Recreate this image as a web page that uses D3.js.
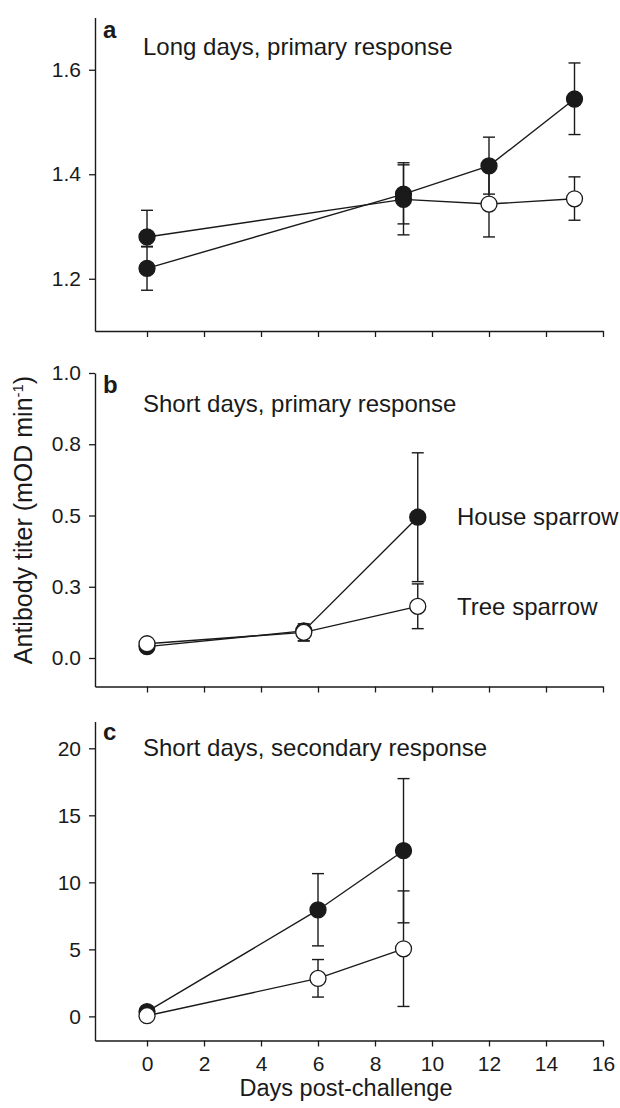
<!DOCTYPE html>
<html><head><meta charset="utf-8">
<script src="https://cdn.jsdelivr.net/npm/d3@7"></script>
<style>
html,body{margin:0;padding:0;background:#fff;}
svg text{font-family:"Liberation Sans",Arial,Helvetica,sans-serif;fill:#1a1a1a;}
</style></head>
<body><svg id="c" width="620" height="1108"></svg>
<script>
// ---- data ----
const xTicks = [0, 2, 4, 6, 8, 10, 12, 14, 16];

const daysA = [0, 9, 12, 15];
const houseA = [1.22, 1.362, 1.416, 1.544];
const houseALo = [1.178, 1.305, 1.362, 1.476];
const houseAHi = [1.261, 1.422, 1.471, 1.613];
const treeA = [1.28, 1.352, 1.343, 1.353];
const treeALo = [1.262, 1.284, 1.28, 1.312];
const treeAHi = [1.331, 1.418, 1.406, 1.395];
const treeAFilledDays = [0, 9];
const yTicksA = [1.2, 1.4, 1.6];

const daysB = [0, 5.5, 9.5];
const houseB = [0.04, 0.095, 0.494];
const houseBLo = [0.04, 0.06, 0.268];
const houseBHi = [0.04, 0.12, 0.72];
const treeB = [0.05, 0.09, 0.181];
const treeBLo = [0.05, 0.06, 0.103];
const treeBHi = [0.05, 0.113, 0.26];
const yTicksB = [0, 0.25, 0.5, 0.75, 1.0];

const daysC = [0, 6, 9];
const houseC = [0.35, 7.94, 12.36];
const houseCLo = [0.35, 5.26, 6.98];
const houseCHi = [0.35, 10.65, 17.74];
const treeC = [0.05, 2.83, 5.04];
const treeCLo = [0.05, 1.44, 0.74];
const treeCHi = [0.05, 4.24, 9.36];
const yTicksC = [0, 5, 10, 15, 20];

const panelLetters = ["a", "b", "c"];
const panelTitles = ["Long days, primary response", "Short days, primary response", "Short days, secondary response"];
const legendLabels = ["House sparrow", "Tree sparrow"];
const yTitle = "Antibody titer (mOD min";
const xTitle = "Days post-challenge";

// ---- drawing ----
const svg = d3.select("#c");
const INK = "#1a1a1a";
const FONT = '"Liberation Sans",Arial,sans-serif';
const x = d3.scaleLinear().domain([-1.825, 16]).range([95, 603]);

const panels = [
  {days: daysA, house: houseA, hLo: houseALo, hHi: houseAHi, tree: treeA, tLo: treeALo, tHi: treeAHi,
   domain: [1.1, 1.7], range: [331, 17.5], ticks: yTicksA, fmt: d3.format(".1f"), labels: false,
   filled: treeAFilledDays, letterDy: 20.5, titleDy: 37.5},
  {days: daysB, house: houseB, hLo: houseBLo, hHi: houseBHi, tree: treeB, tLo: treeBLo, tHi: treeBHi,
   domain: [-0.1, 1.0], range: [686.5, 373], ticks: yTicksB, fmt: d3.format(".1f"), labels: false,
   filled: [], letterDy: 20, titleDy: 39},
  {days: daysC, house: houseC, hLo: houseCLo, hHi: houseCHi, tree: treeC, tLo: treeCLo, tHi: treeCHi,
   domain: [-1.8, 22], range: [1040.5, 721.5], ticks: yTicksC, fmt: d3.format("d"), labels: true,
   filled: [], letterDy: 18.5, titleDy: 34}
];

panels.forEach((p, i) => {
  const y = d3.scaleLinear().domain(p.domain).range(p.range);
  const g = svg.append("g");
  const ya = g.append("g").attr("transform", `translate(${x.range()[0]},0)`)
    .call(d3.axisLeft(y).tickValues(p.ticks).tickFormat(p.fmt).tickSize(6).tickSizeOuter(0).tickPadding(8));
  const xa = g.append("g").attr("transform", `translate(0,${p.range[0]})`)
    .call(d3.axisBottom(x).tickValues(xTicks).tickSize(6).tickSizeOuter(0).tickPadding(10)
      .tickFormat(p.labels ? d3.format("d") : () => ""));
  [ya, xa].forEach(a => {
    a.select(".domain").attr("stroke", INK).attr("stroke-width", 1.4);
    a.selectAll(".tick line").attr("stroke", INK).attr("stroke-width", 1.3);
    a.selectAll("text").attr("font-size", 21).attr("fill", INK).style("font-family", FONT);
  });

  const series = [
    {v: p.house, lo: p.hLo, hi: p.hHi, house: true},
    {v: p.tree, lo: p.tLo, hi: p.tHi, house: false}
  ];
  const line = d3.line().x((d) => x(d[0])).y((d) => y(d[1]));
  series.forEach(s => {
    g.append("path").datum(p.days.map((d, k) => [d, s.v[k]]))
      .attr("d", line).attr("fill", "none").attr("stroke", INK).attr("stroke-width", 1.4);
  });
  series.forEach(s => {
    p.days.forEach((d, k) => {
      if (s.hi[k] === s.lo[k]) return;
      const cx = x(d);
      g.append("line").attr("x1", cx).attr("x2", cx).attr("y1", y(s.lo[k])).attr("y2", y(s.hi[k]))
        .attr("stroke", INK).attr("stroke-width", 1.4);
      [s.lo[k], s.hi[k]].forEach(e => {
        g.append("line").attr("x1", cx - 6).attr("x2", cx + 6).attr("y1", y(e)).attr("y2", y(e))
          .attr("stroke", INK).attr("stroke-width", 1.4);
      });
    });
  });
  series.forEach(s => {
    p.days.forEach((d, k) => {
      const filled = s.house || p.filled.includes(d);
      g.append("circle").attr("cx", x(d)).attr("cy", y(s.v[k])).attr("r", 8)
        .attr("fill", filled ? INK : "#fff").attr("stroke", INK).attr("stroke-width", 1.3);
    });
  });

  const top = p.range[1];
  g.append("text").attr("x", 103).attr("y", top + p.letterDy).attr("font-size", 24)
    .attr("font-weight", "bold").text(panelLetters[i]);
  g.append("text").attr("x", 143).attr("y", top + p.titleDy).attr("font-size", 24).text(panelTitles[i]);

  if (i === 1) {
    g.append("text").attr("x", 457).attr("y", y(houseB[2]) + 8).attr("font-size", 24).text(legendLabels[0]);
    g.append("text").attr("x", 457).attr("y", y(treeB[2]) + 9).attr("font-size", 24).text(legendLabels[1]);
  }
});

const yt = svg.append("text").attr("transform", "translate(32,520) rotate(-90)")
  .attr("text-anchor", "middle").attr("font-size", 25);
yt.append("tspan").text(yTitle);
yt.append("tspan").attr("font-size", 15).attr("dy", -9).text("-1");
yt.append("tspan").attr("dy", 9).text(")");

svg.append("text").attr("x", 346).attr("y", 1096).attr("text-anchor", "middle").attr("font-size", 23.5).text(xTitle);
</script></body></html>
